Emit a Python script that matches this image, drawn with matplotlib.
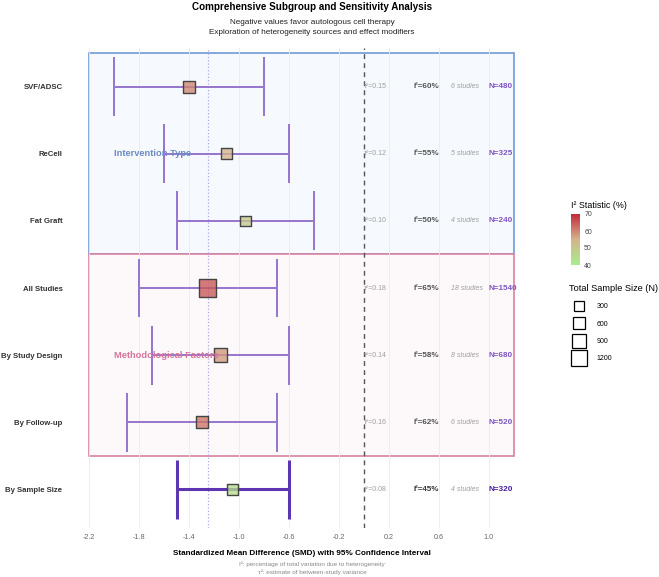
import numpy as np
import matplotlib.pyplot as plt
from matplotlib.colors import LinearSegmentedColormap, Normalize
from matplotlib.patches import Rectangle
from matplotlib.lines import Line2D
from matplotlib.cm import ScalarMappable

plt.rcParams['font.family'] = ['Liberation Sans', 'DejaVu Sans']

# data
labels = ["SVF/ADSC", "ReCell", "Fat Graft", "All Studies",
          "By Study Design", "By Follow-up", "By Sample Size"]
smd = [-1.40, -1.10, -0.95, -1.25, -1.15, -1.30, -1.05]
ci_low = [-2.0, -1.6, -1.5, -1.8, -1.7, -1.9, -1.5]
ci_high = [-0.8, -0.6, -0.4, -0.7, -0.6, -0.7, -0.6]
i2 = [60, 55, 50, 65, 58, 62, 45]
tau2 = [0.15, 0.12, 0.10, 0.18, 0.14, 0.16, 0.08]
n_studies = [6, 5, 4, 18, 8, 6, 4]
n_total = [480, 325, 240, 1540, 680, 520, 320]
groups = ["Intervention Type", "Methodological Factors"]
group_rows = [(0, 2), (3, 5)]
overall = -1.25
xticks = [-2.2, -1.8, -1.4, -1.0, -0.6, -0.2, 0.2, 0.6, 1.0]
size_breaks = [300, 600, 900, 1200]

cmap = LinearSegmentedColormap.from_list("i2", ["#A8EE8E", "#D4B48C", "#C42A3C"])
norm = Normalize(40, 70)


def msize(n):
    return 38 + 0.075 * n


fig = plt.figure(figsize=(6.59, 5.77), dpi=100)
ax = fig.add_axes([68 / 659, 1 - 528 / 577, (535 - 68) / 659, (528 - 48) / 577])

y = np.arange(len(labels))

# group boxes
box_style = [("#6E9BD6", "#F6F9FD", "#6A8CC4"), ("#D683A0", "#FDF8FA", "#D6739A")]
for (g, (r0, r1)), (ec, fc, tc) in zip(zip(groups, group_rows), box_style):
    ax.add_patch(Rectangle((-2.2, r0 - 0.5), 3.4, r1 - r0 + 1, facecolor=fc,
                           edgecolor=ec, lw=1.2, zorder=0.5))
    ax.text(-2.0, r0 + 1, g, color=tc, fontsize=6.7, fontweight='bold',
            ha='left', va='center', zorder=4)

for xt in xticks:
    ax.axvline(xt, color="#EBEBEB", lw=0.6, zorder=0.6)

ax.axvline(0, color="#555555", lw=1, ls=(0, (3.5, 3)), zorder=1)
ax.axvline(overall, color="#A9A9EE", lw=0.9, ls=':', zorder=1)

for i in range(len(labels)):
    last = i == len(labels) - 1
    col = "#5E35B1" if last else "#9575CD"
    lw = 2.2 if last else 1.4
    ax.hlines(y[i], ci_low[i], ci_high[i], color=col, lw=lw, zorder=2)
    ax.vlines([ci_low[i], ci_high[i]], y[i] - 0.44, y[i] + 0.44, color=col, lw=lw, zorder=2)

fills = [cmap(norm(v), alpha=0.78) for v in i2]
ax.scatter(smd, y, s=[msize(v) for v in n_total], marker='s',
           c=fills, edgecolors="#444444", linewidths=1.0, zorder=3)

for i in range(len(labels)):
    last = i == len(labels) - 1
    ax.text(0.0, y[i], f"τ²={tau2[i]:.2f}", color="#9E9E9E", fontsize=5,
            ha='left', va='center')
    ax.text(0.4, y[i], f"I²={i2[i]}%", color="#333333" if last else "#555555",
            fontsize=5.8, fontweight='bold', ha='left', va='center')
    ax.text(0.7, y[i], f"{n_studies[i]} studies", color="#9E9E9E", fontsize=5,
            style='italic', ha='left', va='center')
    ax.text(1.0, y[i], f"N={n_total[i]}", color="#4A1FA0" if last else "#7E57C2",
            fontsize=5.9, fontweight='bold', ha='left', va='center')

ax.set_xlim(-2.37, 1.37)
ax.set_ylim(len(labels) - 0.42, -0.58)
ax.set_yticks(y)
ax.set_yticklabels(labels, fontsize=5.6, fontweight='bold', color="#333333")
ax.set_xticks(xticks)
ax.set_xticklabels([f"{v:.1f}" for v in xticks], fontsize=5.2, color="#666666")
ax.tick_params(axis='y', length=0, pad=4)
ax.tick_params(axis='x', length=0, pad=4)
for s in ax.spines.values():
    s.set_visible(False)
ax.set_xlabel("Standardized Mean Difference (SMD) with 95% Confidence Interval",
              fontsize=5.9, fontweight='bold', labelpad=7)

cx = 312 / 659
fig.text(cx, 1 - 7.5 / 577, "Comprehensive Subgroup and Sensitivity Analysis",
         ha='center', va='center', fontsize=7.1, fontweight='bold')
fig.text(cx, 1 - 22.5 / 577, "Negative values favor autologous cell therapy",
         ha='center', va='center', fontsize=5.9, color="#222222")
fig.text(cx, 1 - 32.5 / 577, "Exploration of heterogeneity sources and effect modifiers",
         ha='center', va='center', fontsize=5.9, color="#222222")
fig.text(cx, 1 - 564 / 577, "I²: percentage of total variation due to heterogeneity",
         ha='center', va='center', fontsize=4.6, color="#888888")
fig.text(cx, 1 - 572 / 577, "τ²: estimate of between-study variance",
         ha='center', va='center', fontsize=4.6, color="#888888")

# colour bar legend
cax = fig.add_axes([571 / 659, 1 - 265 / 577, 9 / 659, 51 / 577])
cb = fig.colorbar(ScalarMappable(norm=norm, cmap=cmap), cax=cax, ticks=[40, 50, 60, 70])
cb.outline.set_visible(False)
cax.tick_params(labelsize=5, length=0, pad=3, labelcolor="#444444")
fig.text(571 / 659, 1 - 205 / 577, "I² Statistic (%)", fontsize=6.4, ha='left', va='center')

# size legend
handles = [Line2D([], [], marker='s', ls='', markerfacecolor='white',
                  markeredgecolor='black', markeredgewidth=0.9,
                  markersize=np.sqrt(msize(b))) for b in size_breaks]
leg = fig.legend(handles, [str(b) for b in size_breaks], title="Total Sample Size (N)",
                 loc='upper left', bbox_to_anchor=(566 / 659, 1 - 281 / 577),
                 frameon=False, fontsize=5, title_fontsize=6.6, labelspacing=1.5,
                 handletextpad=1.0, borderaxespad=0, handlelength=3.0)
leg._legend_box.align = "left"

fig.savefig("out.png", dpi=100)
